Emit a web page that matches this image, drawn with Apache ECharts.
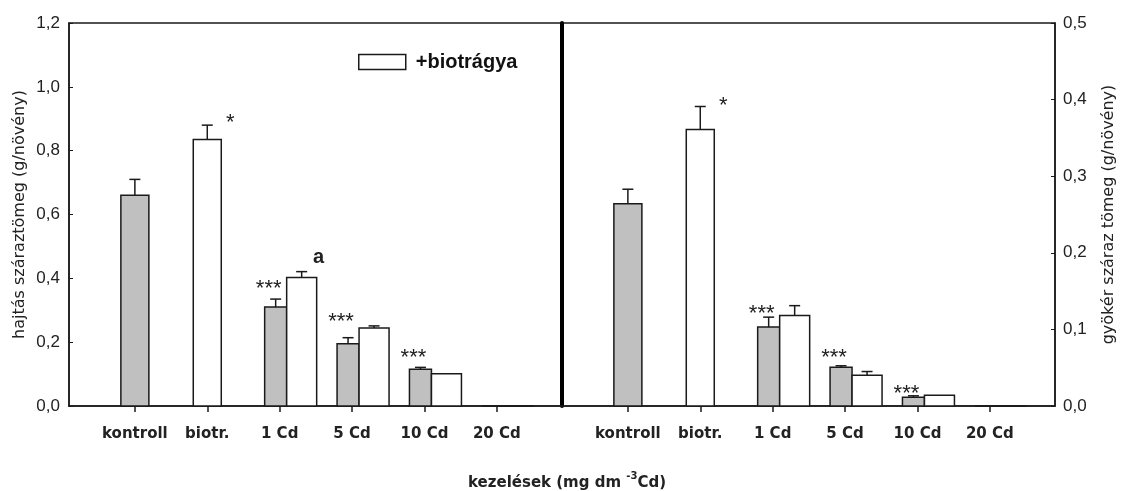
<!DOCTYPE html>
<html><head><meta charset="utf-8">
<script src="https://cdn.jsdelivr.net/npm/echarts@6/dist/echarts.min.js"></script>
<style>html,body{margin:0;padding:0;background:#fff}#c{width:1125px;height:491px}</style>
</head><body><div id="c"></div>
<script>
// ---- data ----
const categories = ['kontroll', 'biotr.', '1 Cd', '5 Cd', '10 Cd', '20 Cd'];
// hajtás száraztömeg (g/növény) – shoot dry mass
const shootNoBio    = [0.66, null, 0.31, 0.195, 0.115, 0];
const shootNoBioErr = [0.05, null, 0.025, 0.019, 0.006, 0];
const shootBio      = [null, 0.835, 0.403, 0.244, 0.101, 0];
const shootBioErr   = [null, 0.045, 0.018, 0.007, 0, 0];
// gyökér száraz tömeg (g/növény) – root dry mass
const rootNoBio     = [0.264, null, 0.103, 0.0505, 0.0113, 0];
const rootNoBioErr  = [0.019, null, 0.013, 0.002, 0.002, 0];
const rootBio       = [null, 0.361, 0.118, 0.040, 0.014, 0];
const rootBioErr    = [null, 0.030, 0.013, 0.005, 0, 0];
// y-axis tick values
const shootTicks = [0, 0.2, 0.4, 0.6, 0.8, 1.0, 1.2];
const rootTicks  = [0, 0.1, 0.2, 0.3, 0.4, 0.5];
// significance marks: [category index, value level, text]
const shootNotes = [[1, 0.902, '*'], [2, 0.382, '***'], [2, 0.464, 'a'], [3, 0.279, '***'], [4, 0.166, '***']];
const rootNotes  = [[1, 0.398, '*'], [2, 0.127, '***'], [3, 0.069, '***'], [4, 0.022, '***']];
const legendName = '+biotrágya';

// ---- chart ----
const FONT = '"Liberation Sans", Arial, sans-serif';
const WIDE = '"DejaVu Sans", Verdana, sans-serif';
const INK = '#1a1a1a';
const chart = echarts.init(document.getElementById('c'), null, {renderer: 'canvas'});
const catIdx = categories.map((c, i) => i);

function barSeries(name, gi, yi, values, errs, other, isBio) {
  return {
    type: 'custom', name: name, xAxisIndex: gi, yAxisIndex: yi,
    itemStyle: {color: isBio ? '#ffffff' : '#c0c0c0', borderColor: INK, borderWidth: 1.5},
    data: values.map((v, i) => v == null ? null : [i, v, errs[i]]).filter(d => d),
    renderItem: function (params, api) {
      const i = api.value(0), v = api.value(1), e = api.value(2);
      const base = api.coord([i, 0]);
      const top = api.coord([i, v]);
      const paired = other[i] != null;
      let x0, x1;
      if (!paired) { x0 = base[0] - 14; x1 = base[0] + 14; }
      else if (!isBio) { x0 = base[0] - 15; x1 = base[0] + 7; }
      else { x0 = base[0] + 7; x1 = base[0] + 37; }
      const children = [{
        type: 'rect',
        shape: {x: x0, y: top[1], width: x1 - x0, height: base[1] - top[1]},
        style: {fill: isBio ? '#ffffff' : '#c0c0c0', stroke: INK, lineWidth: 1.5}
      }];
      if (e > 0) {
        const et = api.coord([i, v + e]);
        const cx = (x0 + x1) / 2;
        children.push({type: 'line', shape: {x1: cx, y1: top[1], x2: cx, y2: et[1]}, style: {stroke: INK, lineWidth: 1.5}});
        children.push({type: 'line', shape: {x1: cx - 5.5, y1: et[1], x2: cx + 5.5, y2: et[1]}, style: {stroke: INK, lineWidth: 1.5}});
      }
      return {type: 'group', children: children};
    }
  };
}

function noteSeries(gi, yi, notes) {
  const dx = {'*': 23, '***': -11, 'a': 39};
  return {
    type: 'custom', name: 'notes' + gi, xAxisIndex: gi, yAxisIndex: yi, silent: true,
    data: notes.map(n => [n[0], n[1], n[2]]),
    renderItem: function (params, api) {
      const i = api.value(0), y = api.value(1);
      const t = notes[params.dataIndex][2];
      const p = api.coord([i, y]);
      const isStar = t.indexOf('*') >= 0;
      return {
        type: 'text', x: p[0] + dx[t], y: p[1] + (isStar ? 5 : 0),
        style: {
          text: t, fill: '#222', align: 'center', verticalAlign: 'middle',
          font: (isStar ? 'normal 22px ' : 'bold 20px ') + FONT
        }
      };
    }
  };
}

function xAxisFor(gi) {
  return {
    gridIndex: gi, type: 'value', min: -0.91, max: 5.9, position: 'bottom',
    axisLine: {show: true, onZero: false, lineStyle: {color: INK, width: 1.5}},
    axisTick: {show: true, customValues: catIdx, length: 6, lineStyle: {color: INK, width: 1.5}},
    axisLabel: {customValues: catIdx, formatter: v => categories[v], margin: 21,
      fontSize: 15, fontWeight: 'bold', color: '#222', fontFamily: WIDE},
    splitLine: {show: false}
  };
}

const fmt = v => v.toFixed(1).replace('.', ',');

chart.setOption({
  animation: false,
  backgroundColor: '#fff',
  grid: [
    {left: 69, right: 563, top: 23, bottom: 85, show: true, borderColor: INK, borderWidth: 1.5},
    {left: 562, right: 70, top: 23, bottom: 85, show: true, borderColor: INK, borderWidth: 1.5}
  ],
  title: {
    text: '{a|kezelések (mg dm }{s|-3}{a|Cd)}', left: 468, top: 471, padding: 0,
    textStyle: {rich: {
      a: {fontSize: 15, fontWeight: 'bold', color: '#222', fontFamily: WIDE, verticalAlign: 'bottom', lineHeight: 20},
      s: {fontSize: 10, fontWeight: 'bold', color: '#222', fontFamily: WIDE, verticalAlign: 'top', lineHeight: 20, padding: [0, 0, 10, 0]}
    }}
  },
  legend: {
    data: [{name: legendName, icon: 'rect'}], left: 358, top: 52, padding: 0, itemWidth: 47, itemHeight: 15,
    itemStyle: {color: '#fff', borderColor: INK, borderWidth: 1.5},
    textStyle: {fontSize: 20, fontWeight: 'bold', color: '#111', fontFamily: FONT, padding: [0, 0, 0, 5]}
  },
  xAxis: [xAxisFor(0), xAxisFor(1)],
  yAxis: [
    {gridIndex: 0, type: 'value', position: 'left', min: shootTicks[0], max: shootTicks[shootTicks.length - 1],
      interval: shootTicks[1] - shootTicks[0],
      name: 'hajtás száraztömeg (g/növény)', nameLocation: 'middle', nameGap: 41, nameRotate: 90,
      nameTextStyle: {fontSize: 16, color: '#222', fontFamily: WIDE},
      axisLine: {show: true, onZero: false, lineStyle: {color: INK, width: 1.5}},
      axisTick: {show: true, inside: true, length: 4, lineStyle: {color: INK}},
      axisLabel: {formatter: fmt, fontSize: 17, color: '#222', fontFamily: FONT, margin: 9},
      splitLine: {show: false}},
    {gridIndex: 0, type: 'value', position: 'right', min: 0, max: 1,
      axisLine: {show: true, onZero: false, lineStyle: {color: '#000', width: 4}},
      axisTick: {show: false}, axisLabel: {show: false}, splitLine: {show: false}},
    {gridIndex: 1, type: 'value', position: 'right', min: rootTicks[0], max: rootTicks[rootTicks.length - 1],
      interval: rootTicks[1] - rootTicks[0],
      name: 'gyökér száraz tömeg (g/növény)', nameLocation: 'middle', nameGap: 46, nameRotate: 90,
      nameTextStyle: {fontSize: 16, color: '#222', fontFamily: WIDE},
      axisLine: {show: true, onZero: false, lineStyle: {color: INK, width: 1.5}},
      axisTick: {show: true, inside: true, length: 4, lineStyle: {color: INK}},
      axisLabel: {formatter: fmt, fontSize: 17, color: '#222', fontFamily: FONT, margin: 8},
      splitLine: {show: false}}
  ],
  series: [
    barSeries('kontroll', 0, 0, shootNoBio, shootNoBioErr, shootBio, false),
    barSeries(legendName, 0, 0, shootBio, shootBioErr, shootNoBio, true),
    noteSeries(0, 0, shootNotes),
    barSeries('kontroll', 1, 2, rootNoBio, rootNoBioErr, rootBio, false),
    barSeries(legendName, 1, 2, rootBio, rootBioErr, rootNoBio, true),
    noteSeries(1, 2, rootNotes)
  ]
});
</script>
</body></html>
